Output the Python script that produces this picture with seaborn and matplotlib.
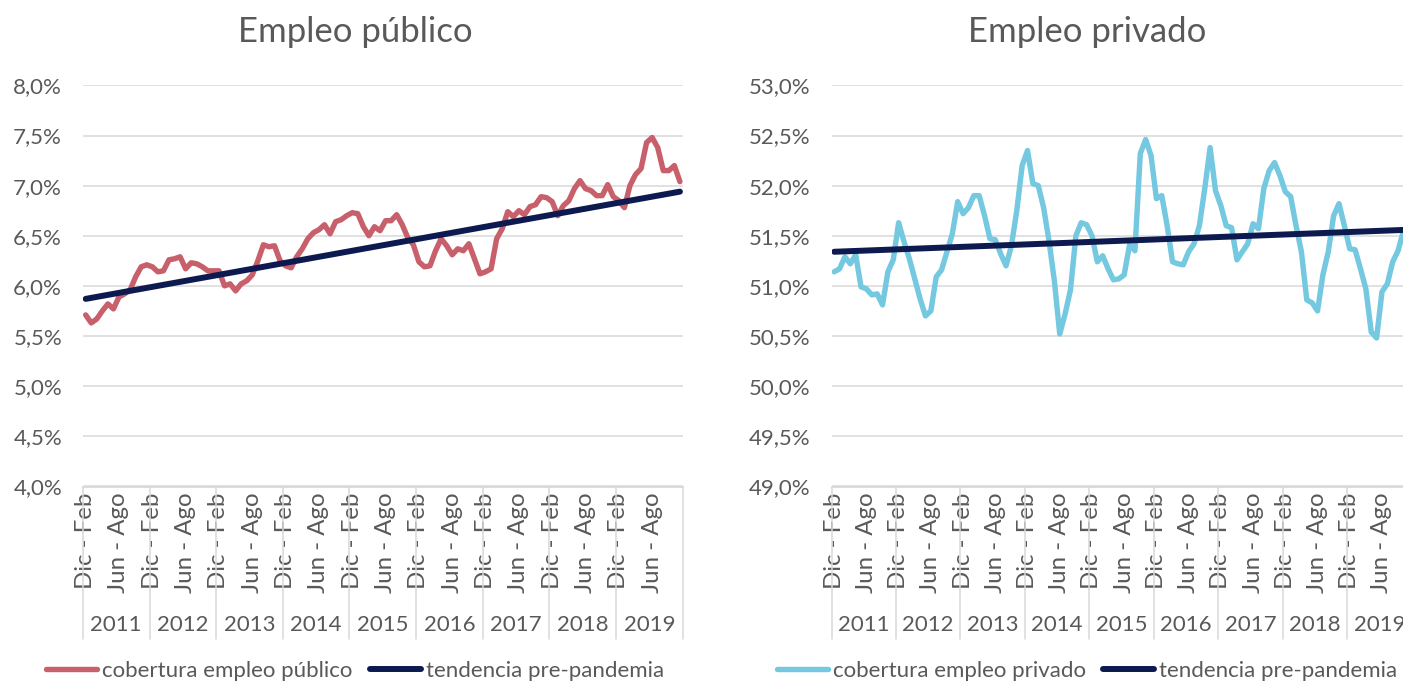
import numpy as np
import pandas as pd
import matplotlib
matplotlib.use("Agg")
import matplotlib.pyplot as plt
import matplotlib.transforms as mtransforms
from matplotlib.ticker import FuncFormatter, MultipleLocator
import seaborn as sns

years = ["2011", "2012", "2013", "2014", "2015", "2016", "2017", "2018", "2019"]
month_labels = ["Dic - Feb", "Jun - Ago"]

# cobertura empleo publico (%), trimestres moviles, 12 por anio
publico = [5.71, 5.63, 5.67, 5.75, 5.82, 5.77, 5.89, 5.92, 5.96, 6.09, 6.19, 6.21,
           6.19, 6.14, 6.15, 6.26, 6.27, 6.29, 6.17, 6.23, 6.22, 6.19, 6.15, 6.15,
           6.15, 6.00, 6.02, 5.95, 6.02, 6.05, 6.11, 6.25, 6.41, 6.39, 6.40, 6.25,
           6.20, 6.18, 6.29, 6.37, 6.47, 6.53, 6.56, 6.61, 6.52, 6.64, 6.66, 6.70,
           6.73, 6.72, 6.59, 6.50, 6.59, 6.55, 6.65, 6.65, 6.71, 6.61, 6.48, 6.41,
           6.24, 6.19, 6.20, 6.35, 6.47, 6.40, 6.31, 6.37, 6.35, 6.42, 6.27, 6.12,
           6.14, 6.17, 6.47, 6.57, 6.74, 6.69, 6.75, 6.71, 6.79, 6.81, 6.89, 6.88,
           6.84, 6.70, 6.80, 6.85, 6.97, 7.05, 6.97, 6.95, 6.90, 6.90, 7.01, 6.89,
           6.85, 6.78, 7.00, 7.11, 7.17, 7.43, 7.48, 7.38, 7.15, 7.15, 7.20, 7.04]

privado = [51.14, 51.17, 51.29, 51.22, 51.31, 50.99, 50.97, 50.91, 50.92, 50.81, 51.14, 51.26,
           51.63, 51.44, 51.27, 51.07, 50.87, 50.70, 50.75, 51.09, 51.16, 51.34, 51.52, 51.84,
           51.72, 51.78, 51.90, 51.90, 51.70, 51.47, 51.46, 51.32, 51.20, 51.40, 51.75, 52.20,
           52.35, 52.02, 52.00, 51.78, 51.45, 51.05, 50.52, 50.72, 50.96, 51.50, 51.63, 51.61,
           51.50, 51.24, 51.30, 51.17, 51.06, 51.07, 51.11, 51.41, 51.35, 52.32, 52.46, 52.30,
           51.87, 51.90, 51.60, 51.24, 51.22, 51.21, 51.34, 51.42, 51.60, 51.97, 52.38, 51.95,
           51.80, 51.60, 51.58, 51.26, 51.34, 51.42, 51.62, 51.57, 51.97, 52.15, 52.23, 52.10,
           51.94, 51.89, 51.60, 51.34, 50.86, 50.83, 50.75, 51.11, 51.34, 51.70, 51.82, 51.60,
           51.37, 51.36, 51.17, 50.97, 50.54, 50.48, 50.94, 51.02, 51.24, 51.35, 51.55, 51.60]

# tendencia pre-pandemia: valores al inicio y al final del periodo
tend_publico = [5.87, 6.94]
tend_privado = [51.34, 51.56]

RED = "#C8606B"
CYAN = "#74C8E0"
NAVY = "#0D1A4F"
GRID = "#D9D9D9"
TXT = "#595959"

sns.set_theme(style="white")
plt.rcParams["font.family"] = ["Lato", "DejaVu Sans"]

W, H = 1403, 683
fig = plt.figure(figsize=(W / 100, H / 100), dpi=100)
ax1 = fig.add_axes([82.9 / W, 1 - 486.5 / H, 599.8 / W, 401.5 / H])
ax2 = fig.add_axes([831.5 / W, 1 - 486.5 / H, 580 / W, 401.5 / H])


def panel(ax, serie, tendencia, color, nombre, y0, y1, titulo, xt):
    n = len(serie)
    df = pd.DataFrame({"mes": np.arange(n) + 0.5, "valor": serie})
    sns.lineplot(data=df, x="mes", y="valor", ax=ax, color=color, lw=3.9,
                 label=nombre, solid_capstyle="round", solid_joinstyle="round")
    dt = pd.DataFrame({"mes": [0.5, n - 0.5], "valor": tendencia})
    sns.lineplot(data=dt, x="mes", y="valor", ax=ax, color=NAVY, lw=4.3,
                 label="tendencia pre-pandemia", solid_capstyle="round")

    ax.set_xlim(0, n)
    ax.set_ylim(y0 - 0.002, y1 + 0.004)
    ax.yaxis.set_major_locator(MultipleLocator(0.5))
    ax.yaxis.set_major_formatter(FuncFormatter(lambda v, p: f"{v:.1f}%".replace(".", ",")))
    ax.grid(axis="y", color=GRID, lw=1.1)
    ax.grid(axis="x", visible=False)
    for s in ["top", "left", "right"]:
        ax.spines[s].set_visible(False)
    ax.spines["bottom"].set_color(GRID)
    ax.spines["bottom"].set_linewidth(1.3)

    pos = []
    labs = []
    for k in range(len(years)):
        pos += [12 * k + 0.5, 12 * k + 6.5]
        labs += month_labels
    ax.set_xticks(pos)
    ax.set_xticklabels(labs, rotation=90)
    ax.tick_params(axis="x", length=0, pad=4.5, labelsize=17.3, colors=TXT)
    ax.tick_params(axis="y", length=0, pad=15, labelsize=16, colors=TXT)
    ax.set_xlabel("")
    ax.set_ylabel("")

    trans = mtransforms.blended_transform_factory(ax.transData, ax.transAxes)
    for k in range(len(years) + 1):
        ax.plot([12 * k, 12 * k], [0, -0.379], transform=trans, clip_on=False,
                color=GRID, lw=1.1)
    for k, yr in enumerate(years):
        ax.text(12 * k + 6, -0.345, yr, transform=trans, ha="center", va="center",
                fontsize=16, color=TXT)

    fig.text(xt / W, 1 - 32 / H, titulo, ha="center", va="center", fontsize=25, color=TXT)
    ax.legend(loc="center", bbox_to_anchor=(xt / W, 1 - 671 / H),
              bbox_transform=fig.transFigure, ncol=2, frameon=False, fontsize=16,
              labelcolor=TXT, handlelength=2.3, handletextpad=0.2, columnspacing=0.8,
              borderpad=0, borderaxespad=0)


panel(ax1, publico, tend_publico, RED, "cobertura empleo público", 4.0, 8.0,
      "Empleo público", 355)
panel(ax2, privado, tend_privado, CYAN, "cobertura empleo privado", 49.0, 53.0,
      "Empleo privado", 1087)

fig.savefig("out.png", dpi=100)
